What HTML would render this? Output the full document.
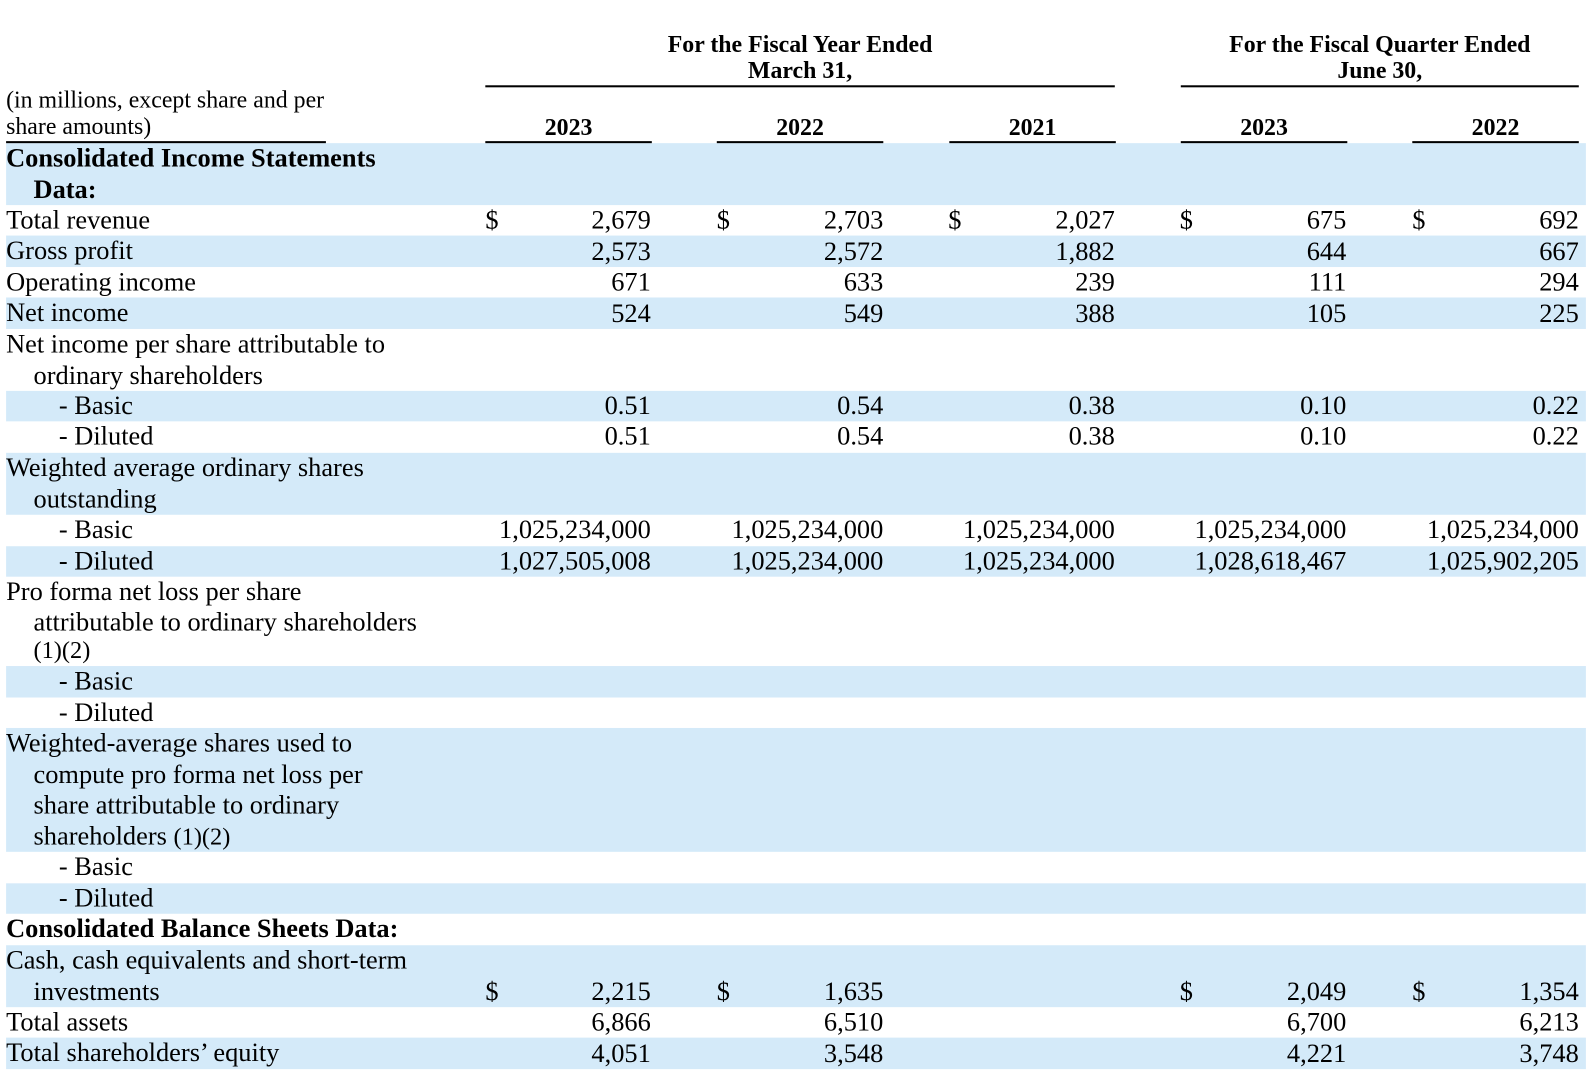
<!DOCTYPE html>
<html><head><meta charset="utf-8"><style>
html,body{margin:0;padding:0;background:#fff;width:1592px;height:1086px;overflow:hidden}
#w{position:absolute;left:0;top:0;width:1568px;height:1070px;transform:scale(1.0153);transform-origin:0 0;font-family:"Liberation Serif",serif;font-size:26px;color:#000}
.b{position:absolute;left:6px;width:1556px;background:#d4eaf9}
.t{position:absolute;white-space:nowrap;line-height:30px}
.r{position:absolute;white-space:nowrap;line-height:30px;text-align:right;width:300px}
.h{font-weight:bold;font-size:23.5px}
.l{position:absolute;background:#000;height:2px}
</style></head><body><div id="w">
<div class="b" style="top:141px;height:61px"></div>
<div class="b" style="top:232px;height:31px"></div>
<div class="b" style="top:293px;height:31px"></div>
<div class="b" style="top:385px;height:30px"></div>
<div class="b" style="top:446px;height:61px"></div>
<div class="b" style="top:538px;height:30px"></div>
<div class="b" style="top:656px;height:31px"></div>
<div class="b" style="top:717px;height:122px"></div>
<div class="b" style="top:870px;height:30px"></div>
<div class="b" style="top:931px;height:61px"></div>
<div class="b" style="top:1022px;height:31px"></div>

<div class="t h" style="left:588px;top:31px;width:400px;text-align:center;line-height:26px">For the Fiscal Year Ended<br>March 31,</div>
<div class="t h" style="left:1159px;top:31px;width:400px;text-align:center;line-height:26px">For the Fiscal Quarter Ended<br>June 30,</div>
<div class="l" style="left:478px;top:84px;width:620px"></div>
<div class="l" style="left:1163px;top:84px;width:392px"></div>
<div class="t" style="left:6px;top:86px;font-size:23.5px;line-height:26px">(in millions, except share and per<br>share amounts)</div>
<div class="l" style="left:6px;top:139px;width:315px"></div>
<div class="t h" style="left:478px;top:111px;width:164px;text-align:center">2023</div>
<div class="t h" style="left:706px;top:111px;width:164px;text-align:center">2022</div>
<div class="t h" style="left:935px;top:111px;width:164px;text-align:center">2021</div>
<div class="t h" style="left:1163px;top:111px;width:164px;text-align:center">2023</div>
<div class="t h" style="left:1391px;top:111px;width:164px;text-align:center">2022</div>
<div class="l" style="left:478px;top:139px;width:164px"></div>
<div class="l" style="left:706px;top:139px;width:164px"></div>
<div class="l" style="left:935px;top:139px;width:164px"></div>
<div class="l" style="left:1163px;top:139px;width:164px"></div>
<div class="l" style="left:1391px;top:139px;width:164px"></div>

<div class="t" style="left:6px;top:141px;font-weight:bold;line-height:30.5px">Consolidated Income Statements<br><span style="padding-left:27px">Data:</span></div>
<div class="t" style="left:6px;top:202px">Total revenue</div>
<div class="t" style="left:6px;top:232px">Gross profit</div>
<div class="t" style="left:6px;top:263px">Operating income</div>
<div class="t" style="left:6px;top:293px">Net income</div>
<div class="t" style="left:6px;top:324px;line-height:30.5px">Net income per share attributable to<br><span style="padding-left:27px">ordinary shareholders</span></div>
<div class="t" style="left:58px;top:385px">- Basic</div>
<div class="t" style="left:58px;top:415px">- Diluted</div>
<div class="t" style="left:6px;top:446px;line-height:30.5px">Weighted average ordinary shares<br><span style="padding-left:27px">outstanding</span></div>
<div class="t" style="left:58px;top:507px">- Basic</div>
<div class="t" style="left:58px;top:538px">- Diluted</div>
<div class="t" style="left:6px;top:568px;line-height:30px">Pro forma net loss per share<br><span style="padding-left:27px">attributable to ordinary shareholders</span></div>
<div class="t" style="left:33px;top:627px;line-height:28px;font-size:24px">(1)(2)</div>
<div class="t" style="left:58px;top:656px">- Basic</div>
<div class="t" style="left:58px;top:687px">- Diluted</div>
<div class="t" style="left:6px;top:717px;line-height:30.5px">Weighted-average shares used to<br><span style="padding-left:27px">compute pro forma net loss per</span><br><span style="padding-left:27px">share attributable to ordinary</span><br><span style="padding-left:27px">shareholders <span style="font-size:24px">(1)(2)</span></span></div>
<div class="t" style="left:58px;top:839px">- Basic</div>
<div class="t" style="left:58px;top:870px">- Diluted</div>
<div class="t" style="left:6px;top:900px;font-weight:bold">Consolidated Balance Sheets Data:</div>
<div class="t" style="left:6px;top:931px;line-height:30.5px">Cash, cash equivalents and short-term<br><span style="padding-left:27px">investments</span></div>
<div class="t" style="left:6px;top:992px">Total assets</div>
<div class="t" style="left:6px;top:1022px">Total shareholders’ equity</div>

<div class="t" style="left:478px;top:202px">$</div><div class="t" style="left:706px;top:202px">$</div><div class="t" style="left:934px;top:202px">$</div><div class="t" style="left:1162px;top:202px">$</div><div class="t" style="left:1391px;top:202px">$</div>
<div class="t" style="left:478px;top:962px">$</div><div class="t" style="left:706px;top:962px">$</div><div class="t" style="left:1162px;top:962px">$</div><div class="t" style="left:1391px;top:962px">$</div>

<div class="r" style="left:341px;top:202px;line-height:30.5px">2,679<br>2,573<br>671<br>524</div>
<div class="r" style="left:570px;top:202px;line-height:30.5px">2,703<br>2,572<br>633<br>549</div>
<div class="r" style="left:798px;top:202px;line-height:30.5px">2,027<br>1,882<br>239<br>388</div>
<div class="r" style="left:1026px;top:202px;line-height:30.5px">675<br>644<br>111<br>105</div>
<div class="r" style="left:1255px;top:202px;line-height:30.5px">692<br>667<br>294<br>225</div>

<div class="r" style="left:341px;top:385px">0.51<br>0.51</div>
<div class="r" style="left:570px;top:385px">0.54<br>0.54</div>
<div class="r" style="left:798px;top:385px">0.38<br>0.38</div>
<div class="r" style="left:1026px;top:385px">0.10<br>0.10</div>
<div class="r" style="left:1255px;top:385px">0.22<br>0.22</div>

<div class="r" style="left:341px;top:507px;line-height:30.5px">1,025,234,000<br>1,027,505,008</div>
<div class="r" style="left:570px;top:507px;line-height:30.5px">1,025,234,000<br>1,025,234,000</div>
<div class="r" style="left:798px;top:507px;line-height:30.5px">1,025,234,000<br>1,025,234,000</div>
<div class="r" style="left:1026px;top:507px;line-height:30.5px">1,025,234,000<br>1,028,618,467</div>
<div class="r" style="left:1255px;top:507px;line-height:30.5px">1,025,234,000<br>1,025,902,205</div>

<div class="r" style="left:341px;top:962px;line-height:30.3px">2,215<br>6,866<br>4,051</div>
<div class="r" style="left:570px;top:962px;line-height:30.3px">1,635<br>6,510<br>3,548</div>
<div class="r" style="left:1026px;top:962px;line-height:30.3px">2,049<br>6,700<br>4,221</div>
<div class="r" style="left:1255px;top:962px;line-height:30.3px">1,354<br>6,213<br>3,748</div>
</div></body></html>
